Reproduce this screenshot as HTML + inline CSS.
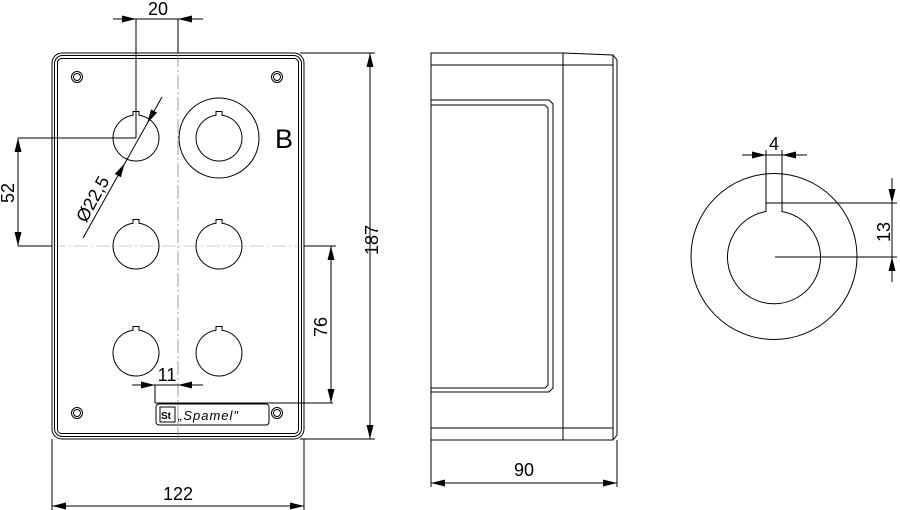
<!DOCTYPE html>
<html><head><meta charset="utf-8"><style>
html,body{margin:0;padding:0;background:#fff;}
svg{display:block;}
text{font-family:"Liberation Sans",sans-serif;fill:#000;}
</style></head><body>
<svg width="900" height="510" viewBox="0 0 900 510" xmlns="http://www.w3.org/2000/svg">
<g fill="none" stroke="#000" stroke-width="1">
<rect x="52" y="53" width="252" height="386" rx="10"/>
<rect x="54.5" y="55.5" width="247" height="381" rx="8"/>
<rect x="57.5" y="58.5" width="241" height="375" rx="4"/>
<line x1="178" y1="53" x2="178" y2="439" stroke="#888" stroke-dasharray="14,3,2,3" stroke-width="0.8"/>
<line x1="52" y1="246" x2="304" y2="246" stroke="#999" stroke-dasharray="14,3,2,3" stroke-width="0.6"/>
<circle cx="77" cy="77" r="5.5"/><circle cx="77" cy="77" r="3.5"/>
<circle cx="277" cy="77" r="5.5"/><circle cx="277" cy="77" r="3.5"/>
<circle cx="77" cy="413" r="5.5"/><circle cx="77" cy="413" r="3.5"/>
<circle cx="277" cy="413" r="5.5"/><circle cx="277" cy="413" r="3.5"/>
<g id="h"><path d="M133,115.2 A23,23 0 1 0 139,115.2 L139,111.5 L133,111.5 Z"/></g>
<use href="#h" transform="translate(0,108)"/>
<use href="#h" transform="translate(0,215)"/>
<use href="#h" transform="translate(83,108)"/>
<use href="#h" transform="translate(83,215)"/>
<use href="#h" transform="translate(83,0)"/>
<circle cx="219" cy="138" r="40"/>
<rect x="156" y="404" width="113" height="21" rx="3"/>
<rect x="160" y="407" width="15" height="15"/>
<line x1="136" y1="19" x2="136" y2="138"/>
<line x1="178" y1="19" x2="178" y2="53"/>
<line x1="113" y1="19" x2="203" y2="19"/>
<line x1="18" y1="138" x2="136" y2="138"/>
<line x1="18" y1="246" x2="52" y2="246"/>
<line x1="304" y1="246" x2="336" y2="246"/>
<line x1="18" y1="138" x2="18" y2="246"/>
<line x1="162" y1="97" x2="83" y2="238"/>
<line x1="300" y1="53" x2="375" y2="53"/>
<line x1="300" y1="439" x2="375" y2="439"/>
<line x1="370" y1="53" x2="370" y2="439"/>
<line x1="331" y1="246" x2="331" y2="403"/>
<line x1="155" y1="403" x2="333" y2="403"/>
<line x1="155" y1="385" x2="155" y2="403"/>
<line x1="132" y1="385" x2="203" y2="385"/>
<line x1="52" y1="439" x2="52" y2="510"/>
<line x1="304" y1="439" x2="304" y2="510"/>
<line x1="52" y1="506" x2="304" y2="506"/>
<path d="M431,53 L563,53 L613,55 L617,60 L617,435 L613,440 L563,440 L431,440 Z"/>
<line x1="431" y1="65" x2="613" y2="65"/>
<line x1="431" y1="428" x2="613" y2="428"/>
<line x1="563" y1="53" x2="563" y2="440"/>
<line x1="613" y1="55" x2="613" y2="440"/>
<path d="M431,100 L549,100 L553,104 L553,388 L549,392 L431,392"/>
<path d="M431,105 L545,105 L548,108 L548,385 L545,388 L431,388"/>
<line x1="431" y1="440" x2="431" y2="487"/>
<line x1="617" y1="440" x2="617" y2="487"/>
<line x1="431" y1="483" x2="617" y2="483"/>
<circle cx="774" cy="256.5" r="83"/>
<path d="M766,211.5 A46.5,46.5 0 1 0 782,211.5 L782,203 L766,203 Z"/>
<line x1="766" y1="150" x2="766" y2="203"/>
<line x1="782" y1="150" x2="782" y2="203"/>
<line x1="742" y1="155" x2="807" y2="155"/>
<line x1="782" y1="203" x2="897" y2="203"/>
<line x1="775" y1="257" x2="897" y2="257"/>
<line x1="892" y1="178" x2="892" y2="282"/>
</g>
<g fill="#000">
<polygon points="122,15.5 136,19 122,22.5"/>
<polygon points="192,15.5 178,19 192,22.5"/>
<polygon points="14.5,152 18,138 21.5,152"/>
<polygon points="14.5,232 18,246 21.5,232"/>
<polygon points="366.5,67 370,53 373.5,67"/>
<polygon points="366.5,425 370,439 373.5,425"/>
<polygon points="327.5,260 331,246 334.5,260"/>
<polygon points="327.5,389 331,403 334.5,389"/>
<polygon points="141,381.5 155,385 141,388.5"/>
<polygon points="192,381.5 178,385 192,388.5"/>
<polygon points="66,502.5 52,506 66,509.5"/>
<polygon points="290,502.5 304,506 290,509.5"/>
<polygon points="445,479.5 431,483 445,486.5"/>
<polygon points="603,479.5 617,483 603,486.5"/>
<polygon points="752,151.5 766,155 752,158.5"/>
<polygon points="796,151.5 782,155 796,158.5"/>
<polygon points="888.5,189 892,203 895.5,189"/>
<polygon points="888.5,271 892,257 895.5,271"/>
<polygon points="147.2,123.3 157.1,112.8 151.0,109.4"/>
<polygon points="124.7,163.4 120.9,177.3 114.8,173.9"/>
</g>
<text x="158" y="15" font-size="18" text-anchor="middle">20</text>
<text x="284" y="148" font-size="27" text-anchor="middle">B</text>
<text transform="translate(14,193) rotate(-90)" font-size="18" text-anchor="middle">52</text>
<text transform="translate(98,202) rotate(-61)" font-size="18" text-anchor="middle">Ø22,5</text>
<text transform="translate(378,240) rotate(-90)" font-size="18" text-anchor="middle">187</text>
<text transform="translate(327,327) rotate(-90)" font-size="18" text-anchor="middle">76</text>
<text x="167" y="381" font-size="18" text-anchor="middle">11</text>
<text x="178" y="500" font-size="18" text-anchor="middle">122</text>
<text x="524" y="476" font-size="18" text-anchor="middle">90</text>
<text x="774" y="150" font-size="18" text-anchor="middle">4</text>
<text transform="translate(890,232) rotate(-90)" font-size="18" text-anchor="middle">13</text>
<text x="161" y="419" font-size="10" font-weight="bold">St</text>
<text x="178" y="420" font-size="13" font-style="italic" letter-spacing="1">„Spamel"</text>
</svg>
</body></html>
